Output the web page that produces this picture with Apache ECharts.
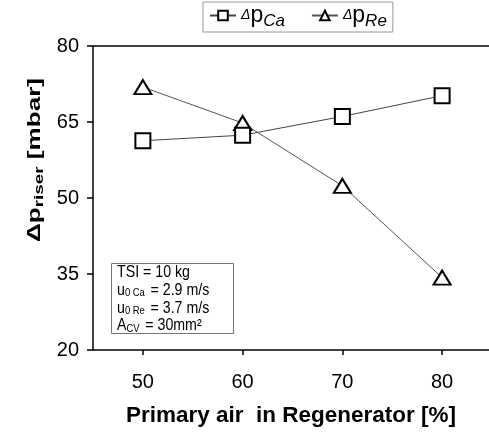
<!DOCTYPE html>
<html>
<head>
<meta charset="utf-8">
<script src="https://cdn.jsdelivr.net/npm/echarts@6/dist/echarts.min.js"></script>
<style>
  html, body { margin: 0; padding: 0; background: #fff; }
  #chart { width: 489px; height: 432px; }
</style>
</head>
<body>
<div id="chart"></div>
<script>
var primaryAir = [50, 60, 70, 80];
var dpCa = [61.3, 62.4, 66.1, 70.2];
var dpRe = [71.9, 64.8, 52.4, 34.3];
var xTicks = [50, 60, 70, 80];
var yTicks = [20, 35, 50, 65, 80];

var chartDom = document.getElementById('chart');
var myChart = echarts.init(chartDom);

function pairs(xs, ys) {
    return xs.map(function (x, i) { return [x, ys[i]]; });
}

var font = 'Liberation Sans, Arial, sans-serif';
var legendRich = {
    d: { fontSize: 14, fontStyle: 'italic', fontFamily: font, color: '#000' },
    p: { fontSize: 23, fontFamily: font, color: '#000' },
    s: { fontSize: 17, fontStyle: 'italic', fontFamily: font, color: '#000', padding: [12, 0, 0, 0] }
};

var option = {
    animation: false,
    backgroundColor: '#fff',
    grid: { left: 93, top: 46, right: 0, bottom: 81, containLabel: false },
    legend: {
        data: ['Ca', 'Re'],
        left: 203,
        top: 2,
        borderColor: '#999',
        borderWidth: 1,
        padding: [2, 6, 2, 6],
        itemGap: 26,
        itemWidth: 26,
        itemHeight: 12,
        formatter: function (name) {
            return '{d|\u0394}{p|p}{s|' + name + '}';
        },
        textStyle: { rich: legendRich }
    },
    xAxis: [{
        type: 'value',
        min: 45,
        max: 84.7,
        splitLine: { show: false },
        axisLine: { lineStyle: { color: '#000', width: 1.5 } },
        axisTick: { customValues: xTicks, length: 5, lineStyle: { color: '#000', width: 1.5 } },
        axisLabel: { customValues: xTicks, margin: 22, fontSize: 20, color: '#000', fontFamily: font },
        name: 'Primary air  in Regenerator [%]',
        nameLocation: 'middle',
        nameGap: 54,
        nameTextStyle: { fontSize: 22.5, fontWeight: 'bold', color: '#000', fontFamily: font }
    }, {
        type: 'value',
        position: 'top',
        min: 45,
        max: 84.7,
        splitLine: { show: false },
        axisLine: { show: true, lineStyle: { color: '#000', width: 1.5 } },
        axisTick: { show: false },
        axisLabel: { show: false }
    }],
    yAxis: {
        type: 'value',
        min: 20,
        max: 80,
        splitLine: { show: false },
        axisLine: { show: true, lineStyle: { color: '#000', width: 1.5 } },
        axisTick: { show: true, customValues: yTicks, length: 6, lineStyle: { color: '#000', width: 1.5 } },
        axisLabel: { customValues: yTicks, margin: 14, fontSize: 20, color: '#000', fontFamily: font }
    },
    graphic: [{
        type: 'text',
        x: 35,
        y: 160,
        rotation: Math.PI / 2,
        scaleX: 1.45,
        style: {
            text: '{a|\u0394p}{b|riser}{a| [mbar]}',
            align: 'center',
            verticalAlign: 'middle',
            rich: {
                a: { fontSize: 18, fontWeight: 'bold', fontFamily: font, fill: '#000' },
                b: { fontSize: 13, fontWeight: 'bold', fontFamily: font, fill: '#000', padding: [9, 0, 0, 0] }
            }
        }
    }, {
        type: 'rect',
        shape: { x: 111.5, y: 263.5, width: 122, height: 70 },
        style: { fill: '#fff', stroke: '#777', lineWidth: 1 }
    }, {
        type: 'text',
        x: 117,
        y: 264,
        scaleX: 0.86,
        style: {
            text: '{t|TSI = 10 kg}\n{t|u}{s|0 Ca}{t| = 2.9 m/s}\n{t|u}{s|0 Re}{t| = 3.7 m/s}\n{t|A}{s|CV}{t| = 30mm\u00b2}',
            rich: {
                t: { fontSize: 16.5, fontFamily: font, fill: '#000', lineHeight: 17.6 },
                s: { fontSize: 11, fontFamily: font, fill: '#000', lineHeight: 17.6, padding: [6, 2, 0, 0] }
            }
        }
    }],
    series: [{
        name: 'Ca',
        type: 'line',
        data: pairs(primaryAir, dpCa),
        symbol: 'rect',
        symbolSize: 15,
        itemStyle: { color: '#fff', borderColor: '#000', borderWidth: 2 },
        lineStyle: { color: '#444', width: 1 },
        z: 3
    }, {
        name: 'Re',
        type: 'line',
        data: pairs(primaryAir, dpRe),
        symbol: 'triangle',
        symbolSize: [17, 14],
        itemStyle: { color: '#fff', borderColor: '#000', borderWidth: 2 },
        lineStyle: { color: '#555', width: 1 },
        z: 2
    }]
};

option && myChart.setOption(option);
</script>
</body>
</html>
